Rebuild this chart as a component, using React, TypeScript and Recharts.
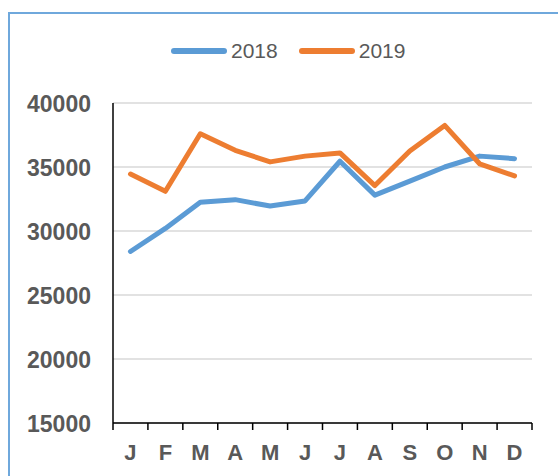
import React from "react";
import { LineChart, Line, XAxis, YAxis, CartesianGrid, Legend } from "recharts";

const months = ["J", "F", "M", "A", "M", "J", "J", "A", "S", "O", "N", "D"];
const values2018 = [28400, 30200, 32250, 32450, 31950, 32350, 35450, 32800, 33900, 35000, 35850, 35650];
const values2019 = [34450, 33100, 37600, 36300, 35400, 35850, 36100, 33550, 36250, 38250, 35250, 34300];
const yTicks = [15000, 20000, 25000, 30000, 35000, 40000];
const seriesNames = ["2018", "2019"];

const data = months.map((m, i) => ({
  key: `${m}-${i}`,
  month: m,
  s2018: values2018[i],
  s2019: values2019[i],
}));

const CHART_W = 558;
const CHART_H = 476;
const MARGIN = { top: 103, right: 26, bottom: 0, left: 0 };
const YAXIS_W = 113;
const XAXIS_H = 53;
const PLOT_W = CHART_W - MARGIN.right - MARGIN.left - YAXIS_W;
const BAND = PLOT_W / months.length;

const BLUE = "#5B9BD5";
const ORANGE = "#ED7D31";
const TEXT = "#595959";
const FONT = "'Liberation Sans', Arial, sans-serif";

const XTick = (props: any) => {
  const { x, y, payload, index } = props;
  const left = x - BAND / 2;
  const right = x + BAND / 2;
  return (
    <g>
      <line x1={left} y1={y} x2={left} y2={y + 7} stroke="#000" strokeWidth={1.5} />
      {index === months.length - 1 && (
        <line x1={right} y1={y} x2={right} y2={y + 7} stroke="#000" strokeWidth={1.5} />
      )}
      <text
        x={x}
        y={y + 37}
        textAnchor="middle"
        fontFamily={FONT}
        fontWeight="bold"
        fontSize={22}
        fill={TEXT}
      >
        {months[index] ?? payload.value}
      </text>
    </g>
  );
};

const YTick = (props: any) => {
  const { x, y, payload } = props;
  return (
    <text
      x={x}
      y={y + 9}
      textAnchor="end"
      fontFamily={FONT}
      fontWeight="bold"
      fontSize={23}
      fill={TEXT}
    >
      {payload.value}
    </text>
  );
};

const LegendContent = () => {
  const colors = [BLUE, ORANGE];
  return (
    <div style={{ display: "flex", alignItems: "center" }}>
      {seriesNames.map((n, i) => (
        <div
          key={n}
          style={{ display: "flex", alignItems: "center", marginRight: i === 0 ? 21 : 0 }}
        >
          <div
            style={{
              width: 56,
              height: 6,
              borderRadius: 3,
              background: colors[i],
              marginRight: 4,
            }}
          />
          <span style={{ fontFamily: FONT, fontSize: 21, color: TEXT, lineHeight: "24px" }}>
            {n}
          </span>
        </div>
      ))}
    </div>
  );
};

export default function App() {
  return (
    <div
      style={{
        position: "fixed",
        left: 0,
        top: 0,
        width: CHART_W,
        height: CHART_H,
        overflow: "hidden",
        background: "#fff",
      }}
    >
      <div
        style={{
          position: "absolute",
          left: 8,
          top: 12,
          width: 700,
          height: 700,
          border: `2px solid #6FA8DC`,
          boxSizing: "border-box",
        }}
      />
      <div style={{ position: "absolute", left: 0, top: 0 }}>
        <LineChart width={CHART_W} height={CHART_H} data={data} margin={MARGIN}>
          <CartesianGrid vertical={false} stroke="#D9D9D9" strokeWidth={1.5} />
          <XAxis
            dataKey="key"
            height={XAXIS_H}
            interval={0}
            padding={{ left: BAND / 2, right: BAND / 2 }}
            tickSize={0}
            tickMargin={0}
            tickLine={false}
            axisLine={{ stroke: "#000", strokeWidth: 1.5 }}
            tick={<XTick />}
          />
          <YAxis
            width={YAXIS_W}
            domain={[15000, 40000]}
            ticks={yTicks}
            interval={0}
            tickSize={0}
            tickMargin={22}
            tickLine={false}
            axisLine={{ stroke: "#000", strokeWidth: 1.5 }}
            tick={<YTick />}
          />
          <Legend
            verticalAlign="middle"
            layout="horizontal"
            content={<LegendContent />}
            wrapperStyle={{ position: "absolute", top: 39, left: 171, width: "auto" }}
          />
          <Line
            type="linear"
            dataKey="s2018"
            name="2018"
            stroke={BLUE}
            strokeWidth={5}
            dot={false}
            strokeLinejoin="round"
            strokeLinecap="round"
            isAnimationActive={false}
          />
          <Line
            type="linear"
            dataKey="s2019"
            name="2019"
            stroke={ORANGE}
            strokeWidth={5}
            dot={false}
            strokeLinejoin="round"
            strokeLinecap="round"
            isAnimationActive={false}
          />
        </LineChart>
      </div>
    </div>
  );
}
